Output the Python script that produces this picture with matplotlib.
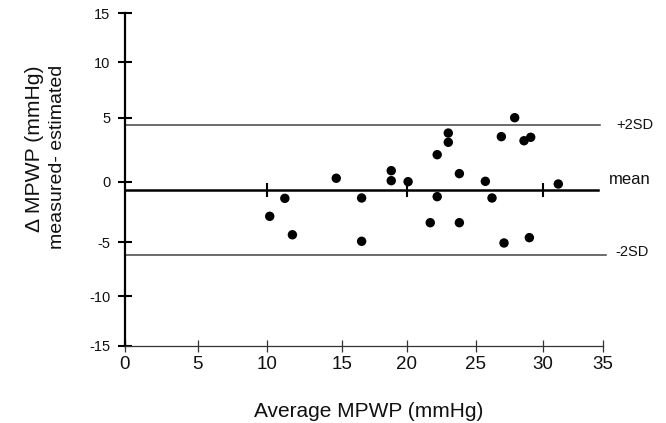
import numpy as np
import matplotlib
matplotlib.use("Agg")
import matplotlib.pyplot as plt
from matplotlib.transforms import offset_copy

# ---------------- data ----------------
avg_mpwp = [14.6, 11.2, 16.5, 10.2, 11.7, 16.5, 27.9, 23.0, 23.0, 26.9, 28.6, 29.1,
            22.2, 18.8, 18.8, 20.1, 23.8, 25.7, 22.2, 26.2, 21.7, 23.8, 27.1, 29.0, 31.3]
diff_mpwp = [0.27, -1.38, -1.35, -2.87, -4.4, -4.94, 5.0, 3.8, 3.08, 3.52, 3.2, 3.47,
             2.11, 0.86, 0.08, 0.0, 0.63, 0.03, -1.24, -1.35, -3.4, -3.4, -5.09, -4.64, -0.19]
mean_diff = -0.65
upper_2sd = 4.4
lower_2sd = -6.2
line_end = 34.8
mean_marks = [10, 20, 30]
x_ticks = [0, 5, 10, 15, 20, 25, 30, 35]
y_ticks = [-15, -10, -5, 0, 5, 10, 15]
ref_labels = ["+2SD", "mean", "-2SD"]
x_label = "Average MPWP (mmHg)"
y_label_1 = "\u0394 MPWP (mmHg)"
y_label_2 = "measured- estimated"

# ------------- scale calibration (printed axis spacing of the original) -------------
X_CAL_V = [0, 5, 10, 15, 20, 25, 30, 35]
X_CAL_P = [0, 72.7, 141.7, 217.3, 281.7, 351.0, 417.7, 477.7]
Y_CAL_V = [-15, -10, -5, 0, 5, 10, 15]
Y_CAL_P = [0, 49.7, 103.7, 164.0, 228.0, 283.7, 332.4]


def piecewise(v, p):
    v = np.asarray(v, float)
    p = np.asarray(p, float)

    def mk(a, b):
        def f(x):
            x = np.asarray(x, float)
            y = np.interp(x, a, b)
            y = np.where(x < a[0], b[0] + (x - a[0]) * (b[1] - b[0]) / (a[1] - a[0]), y)
            y = np.where(x > a[-1], b[-1] + (x - a[-1]) * (b[-1] - b[-2]) / (a[-1] - a[-2]), y)
            return y
        return f
    return mk(v, p), mk(p, v)


plt.rcParams["font.family"] = ["Liberation Sans", "DejaVu Sans"]

W, H = 666, 423
fig = plt.figure(figsize=(W / 100, H / 100), dpi=100)
left_px, right_px, top_px, bot_px = 125, 602.7, 13.3, 345.7
ax = fig.add_axes([left_px / W, 1 - bot_px / H, (right_px - left_px) / W, (bot_px - top_px) / H])
ax.set_xscale("function", functions=piecewise(X_CAL_V, X_CAL_P))
ax.set_yscale("function", functions=piecewise(Y_CAL_V, Y_CAL_P))
ax.set_xlim(0, 35)
ax.set_ylim(-15, 15)

# reference lines
ax.plot([0, line_end], [upper_2sd, upper_2sd], color="#444444", lw=1.1, clip_on=False, zorder=2)
ax.plot([0, line_end + 0.5], [lower_2sd, lower_2sd], color="#444444", lw=1.1, clip_on=False, zorder=2)
ax.plot([0, line_end - 0.2], [mean_diff, mean_diff], color="black", lw=1.8, clip_on=False, zorder=2)
ax.plot(mean_marks, [mean_diff] * len(mean_marks), ls="none", marker="|", ms=10.5,
        mew=1.5, color="black", zorder=2)

# points
ax.scatter(avg_mpwp, diff_mpwp, s=46, color="black", edgecolors="none", zorder=3, clip_on=False)

# reference labels
ytr = ax.get_yaxis_transform()
for lab, val, xf, dy, fs in zip(ref_labels, [upper_2sd, mean_diff, lower_2sd],
                                [1.029, 1.013, 1.026], [0.5, 7.3, 2.4], [10.5, 12, 10.5]):
    ax.text(xf, val, lab, transform=offset_copy(ytr, fig=fig, x=0, y=dy, units="points"),
            ha="left", va="center", fontsize=fs, color="#111111")

# spines and ticks
for s in ["top", "right"]:
    ax.spines[s].set_visible(False)
ax.spines["left"].set_linewidth(1.6)
ax.spines["bottom"].set_linewidth(0.9)
ax.spines["bottom"].set_color("#333333")

ax.set_xticks(x_ticks)
ax.set_xticklabels([str(t) for t in x_ticks])
ax.set_yticks(y_ticks)
ax.set_yticklabels([str(t) for t in y_ticks])
ax.tick_params(axis="x", direction="inout", length=8.6, width=0.9, color="#333333",
               labelsize=13.5, pad=3.0, labelcolor="#111111")
ax.tick_params(axis="y", direction="inout", length=9.4, width=1.5, color="black",
               labelsize=10.5, pad=5.8, labelcolor="#111111")

# axis titles
fig.text(368.5 / W, 1 - 417 / H, x_label, ha="center", va="baseline", fontsize=15, color="#111111")
fig.text(35 / W, 1 - 65 / H, y_label_1, rotation=90, ha="center", va="top", fontsize=15.2, color="#111111")
fig.text(58 / W, 1 - 65 / H, y_label_2, rotation=90, ha="center", va="top", fontsize=14, color="#111111")

fig.savefig("out.png", dpi=100)
